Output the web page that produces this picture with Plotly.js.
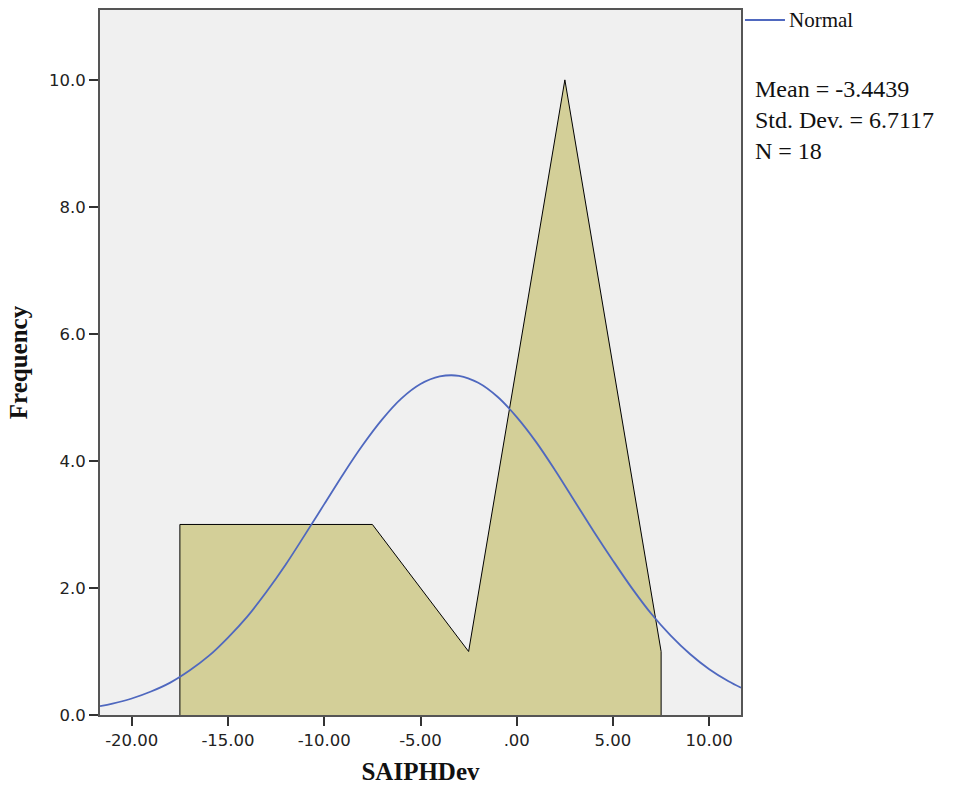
<!DOCTYPE html>
<html>
<head>
<meta charset="utf-8">
<script src="https://cdn.plot.ly/plotly-3.0.1.min.js"></script>
<style>html,body{margin:0;padding:0;background:#fff;}#chart{width:956px;height:793px;}</style>
</head>
<body>
<div id="chart"></div>
<script>
// Frequency polygon vertices
var polyX = [-17.5, -17.5, -7.5, -2.5, 2.5, 7.5, 7.5];
var polyY = [0, 3, 3, 1, 10, 1, 0];

// Normal curve points
var normX = [-21.65, -21, -20, -19, -18, -17, -16, -15, -14, -13, -12, -11, -10, -9, -8, -7, -6, -5, -4, -3, -2, -1, 0, 1, 2, 3, 4, 5, 6, 7, 8, 9, 10, 11, 11.65];
var normY = [0.14, 0.18, 0.26, 0.37, 0.51, 0.70, 0.93, 1.22, 1.55, 1.94, 2.37, 2.84, 3.32, 3.80, 4.25, 4.65, 4.98, 5.21, 5.33, 5.34, 5.23, 5.01, 4.69, 4.30, 3.85, 3.37, 2.89, 2.43, 1.99, 1.59, 1.25, 0.96, 0.72, 0.53, 0.43];

var xTicks = [-20, -15, -10, -5, 0, 5, 10];
var xTickText = ['-20.00', '-15.00', '-10.00', '-5.00', '.00', '5.00', '10.00'];
var yTicks = [0, 2, 4, 6, 8, 10];
var yTickText = ['0.0', '2.0', '4.0', '6.0', '8.0', '10.0'];

var legendName = 'Normal';
var statsLines = ['Mean = -3.4439', 'Std. Dev. = 6.7117', 'N = 18'];

var curveColor = '#4f68bf';
var serif = 'Liberation Serif, Times New Roman, serif';

var traces = [
  {
    x: polyX, y: polyY, type: 'scatter', mode: 'lines',
    fill: 'toself', fillcolor: '#d3cf98',
    line: {color: '#000000', width: 1},
    showlegend: false, hoverinfo: 'skip'
  },
  {
    x: normX, y: normY, type: 'scatter', mode: 'lines',
    name: legendName,
    line: {color: curveColor, width: 1.8, shape: 'spline', smoothing: 1.0},
    showlegend: false
  }
];

var axisCommon = {
  showgrid: false, zeroline: false,
  showline: true, mirror: true, linecolor: '#555555', linewidth: 2,
  ticks: 'outside', ticklen: 9, tickwidth: 2, tickcolor: '#333333',
  tickfont: {family: 'DejaVu Sans, Verdana, sans-serif', size: 16.5, color: '#222222'}
};

var annotations = [{
  xref: 'paper', yref: 'paper', x: 1.0187, y: 0.844, xanchor: 'left', yanchor: 'middle',
  text: statsLines.join('<br>'), showarrow: false, align: 'left',
  font: {family: serif, size: 24, color: '#111111'}
}, {
  xref: 'paper', yref: 'paper', x: 1.0718, y: 0.9858, xanchor: 'left', yanchor: 'middle',
  text: legendName, showarrow: false, align: 'left',
  font: {family: serif, size: 21, color: '#111111'}
}];

var layout = {
  width: 956, height: 793,
  margin: {l: 100, r: 215, t: 10, b: 78},
  paper_bgcolor: '#ffffff',
  plot_bgcolor: '#f0f0f0',
  xaxis: Object.assign({}, axisCommon, {
    range: [-21.65, 11.65],
    tickmode: 'array', tickvals: xTicks, ticktext: xTickText,
    title: {text: '<b>SAIPHDev</b>', font: {family: serif, size: 25, color: '#111111'}, standoff: 14}
  }),
  yaxis: Object.assign({}, axisCommon, {
    range: [0, 11.1],
    tickmode: 'array', tickvals: yTicks, ticktext: yTickText,
    title: {text: '<b>Frequency</b>', font: {family: serif, size: 25, color: '#111111'}, standoff: 14}
  }),
  showlegend: false,
  shapes: [{
    type: 'line', xref: 'paper', yref: 'paper',
    x0: 1.0062, x1: 1.0686, y0: 0.9858, y1: 0.9858,
    line: {color: curveColor, width: 1.8}
  }],
  annotations: annotations
};

Plotly.newPlot('chart', traces, layout, {displayModeBar: false, staticPlot: true});
</script>
</body>
</html>
